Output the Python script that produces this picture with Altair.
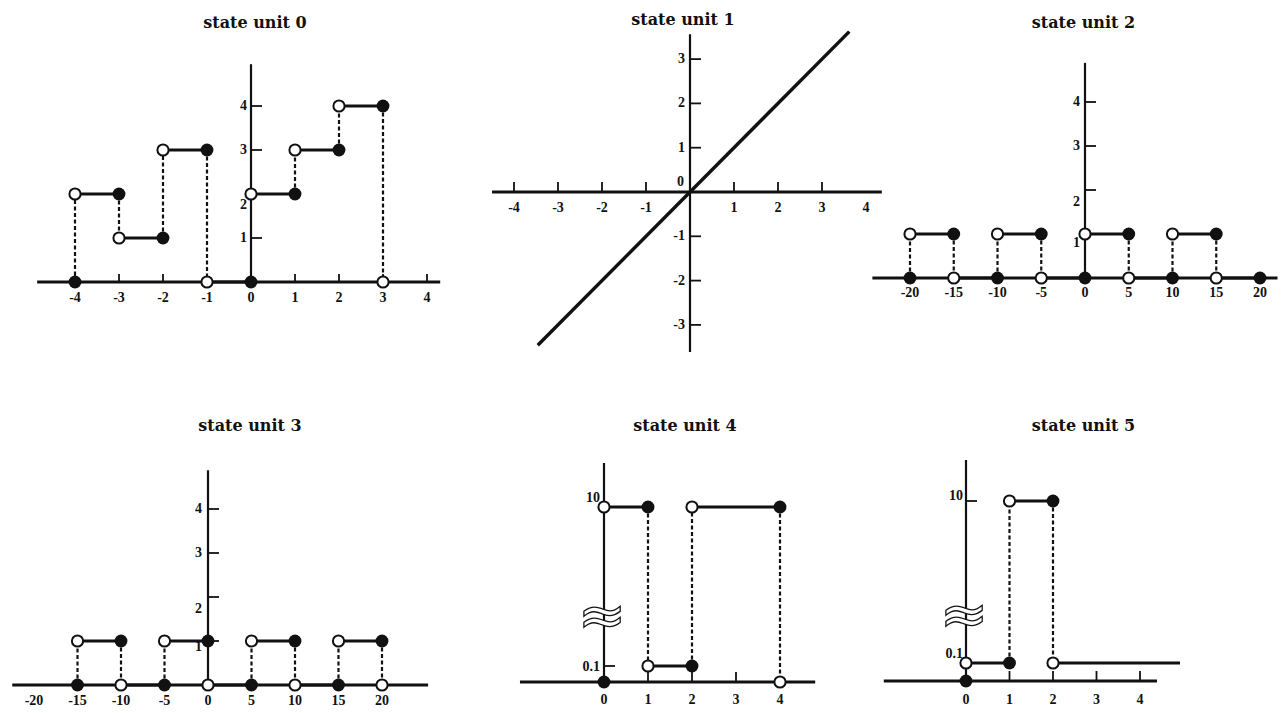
import altair as alt
import pandas as pd

# ============================ DATA ============================
# state unit 0 : step function (open circle = left end, filled = right end)
u0_seg_x1 = [-4, -3, -2, -1, 0, 1, 2]
u0_seg_x2 = [-3, -2, -1, 0, 1, 2, 3]
u0_seg_y = [2, 1, 3, 0, 2, 3, 4]
u0_open_x = [-4, -3, -2, -1, 0, 1, 2, 3]
u0_open_y = [2, 1, 3, 0, 2, 3, 4, 0]
u0_fill_x = [-4, -3, -2, -1, 0, 1, 2, 3]
u0_fill_y = [0, 2, 1, 3, 0, 2, 3, 4]
u0_dash_x = [-4, -3, -2, -1, 1, 2, 3]
u0_dash_y1 = [0, 2, 1, 3, 2, 3, 4]
u0_dash_y2 = [2, 1, 3, 0, 3, 4, 0]
u0_xticks = [-4, -3, -2, -1, 1, 2, 3, 4]
u0_xlabels = [-4, -3, -2, -1, 0, 1, 2, 3, 4]
u0_yticks = [1, 2, 3, 4]
u0_ylabels = ["1", "2", "3", "4"]

# state unit 1 : identity line
u1_line_x = [-3.46, 3.62]
u1_line_y = [-3.46, 3.62]
u1_xticks = [-4, -3, -2, -1, 1, 2, 3]
u1_xlabels = [-4, -3, -2, -1, 1, 2, 3, 4]
u1_yticks = [-3, -2, -1, 1, 2, 3]
u1_ylabels = ["-3", "-2", "-1", "1", "2", "3"]
u1_origin_label = ["0"]

# state unit 2 : period-10 square wave
u2_seg_x1 = [-20, -15, -10, -5, 0, 5, 10, 15]
u2_seg_x2 = [-15, -10, -5, 0, 5, 10, 15, 20]
u2_seg_y = [1, 0, 1, 0, 1, 0, 1, 0]
u2_open_x = [-20, -15, -10, -5, 0, 5, 10, 15]
u2_open_y = [1, 0, 1, 0, 1, 0, 1, 0]
u2_fill_x = [-20, -15, -10, -5, 0, 5, 10, 15, 20]
u2_fill_y = [0, 1, 0, 1, 0, 1, 0, 1, 0]
u2_dash_x = [-20, -15, -10, -5, 5, 10, 15]
u2_dash_y1 = [0, 1, 0, 1, 1, 0, 1]
u2_dash_y2 = [1, 0, 1, 0, 0, 1, 0]
u2_xlabels = [-20, -15, -10, -5, 0, 5, 10, 15, 20]
u2_yticks = [1, 2, 3, 4]
u2_ylabels = ["1", "2", "3", "4"]

# state unit 3 : shifted square wave
u3_seg_x1 = [-15, -10, -5, 0, 5, 10, 15]
u3_seg_x2 = [-10, -5, 0, 5, 10, 15, 20]
u3_seg_y = [1, 0, 1, 0, 1, 0, 1]
u3_open_x = [-15, -10, -5, 0, 5, 10, 15, 20]
u3_open_y = [1, 0, 1, 0, 1, 0, 1, 0]
u3_fill_x = [-15, -10, -5, 0, 5, 10, 15, 20]
u3_fill_y = [0, 1, 0, 1, 0, 1, 0, 1]
u3_dash_x = [-15, -10, -5, 5, 10, 15, 20]
u3_dash_y1 = [0, 1, 0, 0, 1, 0, 1]
u3_dash_y2 = [1, 0, 1, 1, 0, 1, 0]
u3_xlabels = [-20, -15, -10, -5, 0, 5, 10, 15, 20]
u3_yticks = [1, 2, 3, 4]
u3_ylabels = ["1", "2", "3", "4"]

# state unit 4 : values 10 / 0.1 (broken axis)
u4_seg_x1 = [0, 1, 2]
u4_seg_x2 = [1, 2, 4]
u4_seg_y = [10, 0.1, 10]
u4_open_x = [0, 1, 2, 4]
u4_open_y = [10, 0.1, 10, 0]
u4_fill_x = [0, 1, 2, 4]
u4_fill_y = [0, 10, 0.1, 10]
u4_dash_x = [1, 2, 4]
u4_dash_y1 = [10, 0.1, 10]
u4_dash_y2 = [0.1, 10, 0]
u4_xticks = [1, 2, 3]
u4_xlabels = [0, 1, 2, 3, 4]
u4_yticks = [0.1, 10]
u4_ylabels = ["0.1", "10"]

# state unit 5
u5_seg_x1 = [0, 1, 2]
u5_seg_x2 = [1, 2, 4.92]
u5_seg_y = [0.1, 10, 0.1]
u5_open_x = [0, 1, 2]
u5_open_y = [0.1, 10, 0.1]
u5_fill_x = [0, 1, 2]
u5_fill_y = [0, 0.1, 10]
u5_dash_x = [1, 2]
u5_dash_y1 = [0.1, 10]
u5_dash_y2 = [10, 0.1]
u5_xticks = [1, 2, 3, 4]
u5_xlabels = [0, 1, 2, 3, 4]
u5_yticks = [0.1, 10]
u5_ylabels = ["0.1", "10"]

# ============================ LAYOUT ============================
COL_LEFT = [8, 470, 870]
COL_W = [462, 400, 405]
ROW_TOP = [28, 431]
ROW_H = [334, 274]

TICK_FONT = "Liberation Serif"
TICK_SIZE = 14
TITLE_FONT = "DejaVu Serif"
INK = "#111111"

panels = [
    dict(title="state unit 0", row=0, col=0, ox=251, oy=282, sx=44, sy=44, tdx=16,
         xaxis=(-4.86, 4.3), yaxis=(0, 4.95), xlab_dy=16, xtick_len=8,
         seg=(u0_seg_x1, u0_seg_x2, u0_seg_y), open=(u0_open_x, u0_open_y),
         fill=(u0_fill_x, u0_fill_y), dash=(u0_dash_x, u0_dash_y1, u0_dash_y2),
         xticks=u0_xticks, xlabels=u0_xlabels, yticks=u0_yticks, ylabels=u0_ylabels,
         ylab_dx=-4, ylab_dy={"2": 11}),
    dict(title="state unit 1", row=0, col=1, ox=690, oy=192, sx=44, sy=44.3, tdx=13,
         xaxis=(-4.5, 4.36), yaxis=(-3.61, 3.56), xlab_dy=16, xtick_len=10,
         line=(u1_line_x, u1_line_y),
         xticks=u1_xticks, xlabels=u1_xlabels, yticks=u1_yticks, ylabels=u1_ylabels,
         ylab_dx=-5, ylab_dy={}),
    dict(title="state unit 2", row=0, col=2, ox=1085, oy=278, sx=8.75, sy=44, tdx=11,
         xaxis=(-24.3, 22.0), yaxis=(0, 4.89), xlab_dy=15, xtick_len=8,
         seg=(u2_seg_x1, u2_seg_x2, u2_seg_y), open=(u2_open_x, u2_open_y),
         fill=(u2_fill_x, u2_fill_y), dash=(u2_dash_x, u2_dash_y1, u2_dash_y2),
         xticks=[], xlabels=u2_xlabels, yticks=u2_yticks, ylabels=u2_ylabels,
         ylab_dx=-5, ylab_dy={"1": 9, "2": 12}),
    dict(title="state unit 3", row=1, col=0, ox=208, oy=685, sx=8.7, sy=44, tdx=11,
         xaxis=(-22.5, 25.3), yaxis=(0, 4.88), xlab_dy=16, xtick_len=8,
         seg=(u3_seg_x1, u3_seg_x2, u3_seg_y), open=(u3_open_x, u3_open_y),
         fill=(u3_fill_x, u3_fill_y), dash=(u3_dash_x, u3_dash_y1, u3_dash_y2),
         xticks=[], xlabels=u3_xlabels, yticks=u3_yticks, ylabels=u3_ylabels,
         ylab_dx=-6, ylab_dy={"1": 6, "2": 12}),
    dict(title="state unit 4", row=1, col=1, ox=604, oy=682, sx=44, tdx=15,
         ypw=([0, 0.1, 10, 12], [682, 666, 507, 463]),
         xaxis=(-1.91, 4.8), yaxis=(0, 12), xlab_dy=18, xtick_len=10,
         seg=(u4_seg_x1, u4_seg_x2, u4_seg_y), open=(u4_open_x, u4_open_y),
         fill=(u4_fill_x, u4_fill_y), dash=(u4_dash_x, u4_dash_y1, u4_dash_y2),
         xticks=u4_xticks, xlabels=u4_xlabels, yticks=u4_yticks, ylabels=u4_ylabels,
         ylab_dx=-4, ylab_dy={"10": -9, "0.1": 1}, brk=3.1),
    dict(title="state unit 5", row=1, col=2, ox=966, oy=681, sx=43.5, tdx=11,
         ypw=([0, 0.1, 10, 12], [681, 663, 501, 460]),
         xaxis=(-1.89, 4.39), yaxis=(0, 12), xlab_dy=19, xtick_len=10,
         seg=(u5_seg_x1, u5_seg_x2, u5_seg_y), open=(u5_open_x, u5_open_y),
         fill=(u5_fill_x, u5_fill_y), dash=(u5_dash_x, u5_dash_y1, u5_dash_y2),
         xticks=u5_xticks, xlabels=u5_xlabels, yticks=u5_yticks, ylabels=u5_ylabels,
         ylab_dx=-3, ylab_dy={"10": -5, "0.1": -9}, brk=2.9),
]


def build(cfg):
    r, c = cfg["row"], cfg["col"]
    W, H = COL_W[c], ROW_H[r]
    left, top = COL_LEFT[c], ROW_TOP[r]
    ox, sx = cfg["ox"], cfg["sx"]
    xs = alt.Scale(domain=[(left - ox) / sx, (left + W - ox) / sx], nice=False, zero=False)
    if "ypw" in cfg:
        dom, pix = cfg["ypw"]
        ys = alt.Scale(domain=dom, range=[p - top for p in pix], nice=False, zero=False)
    else:
        oy, sy = cfg["oy"], cfg["sy"]
        ys = alt.Scale(domain=[(oy - (top + H)) / sy, (oy - top) / sy], nice=False, zero=False)

    def X(f):
        return alt.X(f"{f}:Q", scale=xs, axis=None)

    def Y(f):
        return alt.Y(f"{f}:Q", scale=ys, axis=None)

    layers = []
    # axis lines
    xa0, xa1 = cfg["xaxis"]
    ya0, ya1 = cfg["yaxis"]
    xaxis_df = pd.DataFrame({"x": [xa0], "x2": [xa1], "y": [0]})
    yaxis_df = pd.DataFrame({"x": [0], "y": [ya0], "y2": [ya1]})
    layers.append(alt.Chart(xaxis_df).mark_rule(color=INK, strokeWidth=2.8).encode(
        x=X("x"), x2="x2:Q", y=Y("y")))
    layers.append(alt.Chart(yaxis_df).mark_rule(color=INK, strokeWidth=2.2).encode(
        x=X("x"), y=Y("y"), y2="y2:Q"))

    # dashed verticals
    if "dash" in cfg:
        dx_, dy1, dy2 = cfg["dash"]
        ddf = pd.DataFrame({"x": dx_, "y": dy1, "y2": dy2})
        layers.append(alt.Chart(ddf).mark_rule(color=INK, strokeWidth=2.2, strokeDash=[4, 2.5]).encode(
            x=X("x"), y=Y("y"), y2="y2:Q"))

    # x ticks (upward)
    if cfg["xticks"]:
        tdf = pd.DataFrame({"x": cfg["xticks"], "y": [0] * len(cfg["xticks"])})
        layers.append(alt.Chart(tdf).mark_rule(color=INK, strokeWidth=1.8,
                                               y2Offset=-cfg["xtick_len"]).encode(
            x=X("x"), y=Y("y"), y2="y:Q"))
    # y ticks (to the right)
    ydf = pd.DataFrame({"x": [0] * len(cfg["yticks"]), "y": cfg["yticks"]})
    layers.append(alt.Chart(ydf).mark_rule(color=INK, strokeWidth=1.8, x2Offset=11).encode(
        x=X("x"), x2="x:Q", y=Y("y")))

    # horizontal step segments
    if "seg" in cfg:
        s1, s2, sv = cfg["seg"]
        sdf = pd.DataFrame({"x": s1, "x2": s2, "y": sv})
        layers.append(alt.Chart(sdf).mark_rule(color=INK, strokeWidth=3).encode(
            x=X("x"), x2="x2:Q", y=Y("y")))
    # line
    if "line" in cfg:
        lx, ly = cfg["line"]
        ldf = pd.DataFrame({"x": lx, "y": ly})
        layers.append(alt.Chart(ldf).mark_line(color=INK, strokeWidth=3.4).encode(
            x=X("x"), y=Y("y")))
    # circles
    if "open" in cfg:
        odf = pd.DataFrame({"x": cfg["open"][0], "y": cfg["open"][1]})
        layers.append(alt.Chart(odf).mark_point(shape="circle", filled=True, fill="white",
                                                stroke=INK, strokeWidth=2, size=125,
                                                opacity=1).encode(x=X("x"), y=Y("y")))
    if "fill" in cfg:
        fdf = pd.DataFrame({"x": cfg["fill"][0], "y": cfg["fill"][1]})
        layers.append(alt.Chart(fdf).mark_circle(color=INK, size=165, opacity=1).encode(
            x=X("x"), y=Y("y")))

    # x labels
    xl = pd.DataFrame({"x": cfg["xlabels"], "y": [0] * len(cfg["xlabels"]),
                       "t": [str(v) for v in cfg["xlabels"]]})
    layers.append(alt.Chart(xl).mark_text(font=TICK_FONT, fontSize=TICK_SIZE, fontWeight="bold",
                                          color=INK, baseline="middle", align="center",
                                          dy=cfg["xlab_dy"]).encode(
        x=X("x"), y=Y("y"), text="t:N"))
    # y labels (grouped by vertical nudge)
    groups = {}
    for v, t in zip(cfg["yticks"], cfg["ylabels"]):
        groups.setdefault(cfg["ylab_dy"].get(t, 0), []).append((v, t))
    for ddy, items in groups.items():
        yl = pd.DataFrame({"x": [0] * len(items), "y": [i[0] for i in items],
                           "t": [i[1] for i in items]})
        layers.append(alt.Chart(yl).mark_text(font=TICK_FONT, fontSize=TICK_SIZE, fontWeight="bold",
                                              color=INK, baseline="middle", align="right",
                                              dx=cfg["ylab_dx"], dy=ddy).encode(
            x=X("x"), y=Y("y"), text="t:N"))
    # origin label (unit 1)
    if cfg["title"] == "state unit 1":
        odf2 = pd.DataFrame({"x": [0], "y": [0], "t": u1_origin_label})
        layers.append(alt.Chart(odf2).mark_text(font=TICK_FONT, fontSize=TICK_SIZE, fontWeight="bold",
                                                color=INK, baseline="middle", align="right",
                                                dx=-6, dy=-10).encode(
            x=X("x"), y=Y("y"), text="t:N"))
    # axis break symbol (outlined double wave)
    if "brk" in cfg:
        bdf = pd.DataFrame({"x": [0], "y": [cfg["brk"]], "t": ["≈"]})
        layers.append(alt.Chart(bdf).mark_text(font="DejaVu Sans", fontSize=58, fill="white",
                                               stroke=INK, strokeWidth=1.3,
                                               baseline="middle", align="center",
                                               dx=-2).encode(
            x=X("x"), y=Y("y"), text="t:N"))

    return alt.layer(*layers).properties(
        width=W, height=H,
        title=alt.TitleParams(cfg["title"], font=TITLE_FONT, fontSize=16, fontWeight="bold",
                              color=INK, anchor="middle", frame="group", offset=-3,
                              dx=cfg["tdx"]),
    )


charts = [build(p) for p in panels]
chart = alt.concat(
    *charts, columns=3, align="each", bounds="flush",
    spacing={"row": ROW_TOP[1] - ROW_TOP[0] - ROW_H[0], "column": 0},
).properties(
    padding={"left": 0, "top": 3, "right": 0, "bottom": 0},
    background="white",
).configure_view(stroke=None)

chart.save("out.html", embed_options={"renderer": "svg", "actions": False})
